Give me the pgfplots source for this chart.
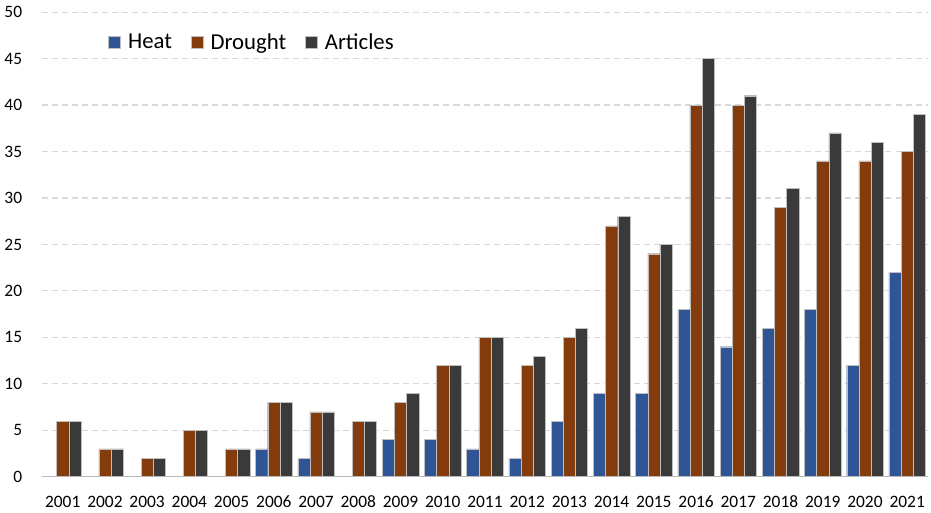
\documentclass[border=0pt]{standalone}
\usepackage{fontspec}
\setmainfont{Carlito}
\usepackage{pgfplots}
\pgfplotsset{compat=1.18}
\definecolor{heat}{HTML}{2F5597}
\definecolor{drought}{HTML}{843C0C}
\definecolor{articles}{HTML}{3A3A3A}
\definecolor{gridc}{HTML}{D9D9D9}
\begin{document}
\begin{tikzpicture}
\begin{axis}[
  scale only axis,
  width=662pt, height=347pt,
  ybar=0pt, bar width=9.1pt,
  xmin=-0.5, xmax=20.5,
  ymin=0, ymax=50,
  ytick={0,5,...,50},
  xtick={0,...,20},
  xticklabels={2001,2002,2003,2004,2005,2006,2007,2008,2009,2010,2011,2012,2013,2014,2015,2016,2017,2018,2019,2020,2021},
  /pgf/number format/assume math mode=true,
  tick label style={font=\fontsize{13}{15}\selectfont},
  major tick length=0pt,
  axis line style={draw=none},
  ymajorgrids,
  grid style={draw=gridc, dashed, dash pattern=on 4.5pt off 3pt, line width=0.8pt},
  yticklabel style={xshift=-11pt},
  xticklabel style={yshift=-10pt, text height=9pt, text depth=1pt},
  legend style={at={(0.075,0.935)}, anchor=west, draw=none, fill=none, inner sep=0pt,
    legend columns=-1, font=\fontsize{17}{19}\selectfont,
    /tikz/every odd column/.append style={column sep=3.5pt},
    /tikz/every even column/.append style={column sep=12pt}},
  legend image code/.code={\fill[#1] (0pt,-4.5pt) rectangle (9pt,4.5pt);},
  every axis plot/.append style={draw=white!75!black, line width=0.3pt},
]
\addplot[fill=heat] coordinates {(0,0)(1,0)(2,0)(3,0)(4,0)(5,3)(6,2)(7,0)(8,4)(9,4)(10,3)(11,2)(12,6)(13,9)(14,9)(15,18)(16,14)(17,16)(18,18)(19,12)(20,22)};
\addplot[fill=drought] coordinates {(0,6)(1,3)(2,2)(3,5)(4,3)(5,8)(6,7)(7,6)(8,8)(9,12)(10,15)(11,12)(12,15)(13,27)(14,24)(15,40)(16,40)(17,29)(18,34)(19,34)(20,35)};
\addplot[fill=articles] coordinates {(0,6)(1,3)(2,2)(3,5)(4,3)(5,8)(6,7)(7,6)(8,9)(9,12)(10,15)(11,13)(12,16)(13,28)(14,25)(15,45)(16,41)(17,31)(18,37)(19,36)(20,39)};
\legend{Heat,Drought,Articles}
\draw[gridc!85!black, line width=0.8pt] (axis cs:-0.5,0) -- (axis cs:20.5,0);
\end{axis}
\path (current axis.east) ++(2pt,0);
\path (current axis.north) ++(0,9pt);
\end{tikzpicture}
\end{document}
